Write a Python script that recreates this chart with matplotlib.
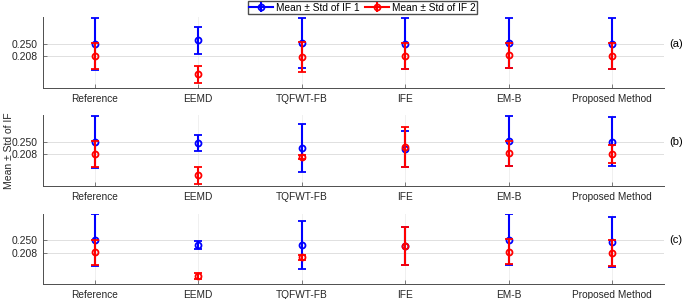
import numpy as np
import matplotlib
matplotlib.use('Agg')
import matplotlib.pyplot as plt
import matplotlib.transforms as mtransforms
from matplotlib.lines import Line2D

plt.rcParams['font.family'] = ['Liberation Sans', 'DejaVu Sans']

methods = ['Reference', 'EEMD', 'TQFWT-FB', 'IFE', 'EM-B', 'Proposed Method']

# panel (a)
mean1_a = [0.250, 0.261, 0.252, 0.250, 0.252, 0.250]
std1_a = [0.088, 0.045, 0.086, 0.087, 0.086, 0.087]
mean2_a = [0.208, 0.147, 0.205, 0.208, 0.210, 0.208]
std2_a = [0.043, 0.029, 0.052, 0.043, 0.043, 0.043]

# panel (b)
mean1_b = [0.250, 0.247, 0.229, 0.227, 0.253, 0.251]
std1_b = [0.087, 0.026, 0.080, 0.061, 0.086, 0.082]
mean2_b = [0.210, 0.137, 0.199, 0.234, 0.211, 0.210]
std2_b = [0.044, 0.028, 0.006, 0.068, 0.043, 0.030]

# panel (c)
mean1_c = [0.250, 0.234, 0.233, 0.230, 0.252, 0.245]
std1_c = [0.088, 0.013, 0.082, 0.064, 0.086, 0.085]
mean2_c = [0.209, 0.127, 0.192, 0.230, 0.211, 0.207]
std2_c = [0.043, 0.010, 0.008, 0.064, 0.043, 0.045]

panels = [
    ('(a)', mean1_a, std1_a, mean2_a, std2_a),
    ('(b)', mean1_b, std1_b, mean2_b, std2_b),
    ('(c)', mean1_c, std1_c, mean2_c, std2_c),
]
yticks = [0.208, 0.250]
labels = ['Mean ± Std of IF 1', 'Mean ± Std of IF 2']

W, H = 685, 299
fig = plt.figure(figsize=(W / 100, H / 100), dpi=100)

# axes boxes in pixels: (left, top, right, bottom)
boxes = [(43, 17, 664, 88), (43, 115.3, 664, 186.3), (43, 213.7, 664, 284.3)]
gray = '0.15'
x = np.arange(1, len(methods) + 1)
axes = []
for (lab, m1, s1, m2, s2), (l, t, r, b) in zip(panels, boxes):
    ax = fig.add_axes([l / W, 1 - b / H, (r - l) / W, (b - t) / H])
    axes.append(ax)
    ax.errorbar(x, m1, yerr=s1, fmt='o', color='b', ms=4.3, mfc='none',
                mew=1.3, elinewidth=1.5, capsize=3, capthick=1.3, zorder=3)
    ax.errorbar(x, m2, yerr=s2, fmt='o', color='r', ms=4.3, mfc='none',
                mew=1.3, elinewidth=1.5, capsize=3, capthick=1.3, zorder=4)
    ax.set_xlim(0.5, 6.5)
    ax.set_ylim(0.1, 0.34)
    ax.set_xticks(x)
    ax.set_xticklabels(methods, fontsize=7.3, color=gray)
    ax.set_yticks(yticks)
    ax.set_yticklabels(['%.3f' % v for v in yticks], fontsize=7.5, color=gray)
    ax.tick_params(direction='in', length=3, width=0.6, color='0.4', pad=4)
    ax.spines['top'].set_visible(False)
    ax.spines['right'].set_visible(False)
    for s in ('left', 'bottom'):
        ax.spines[s].set_color('0.3')
        ax.spines[s].set_linewidth(0.7)
    ax.grid(axis='y', color='0.88', lw=0.7)
    ax.grid(axis='x', color='0.94', lw=0.7)
    ax.set_axisbelow(True)
    trans = mtransforms.blended_transform_factory(ax.transAxes, ax.transData)
    ax.text(1.009, 0.250, lab, transform=trans, fontsize=8, ha='left',
            va='center', color='black')

axes[1].set_ylabel('Mean ± Std of IF', fontsize=7.5, color=gray)
axes[1].yaxis.set_label_coords(-0.047, 0.5)

# legend handles drawn like MATLAB errorbar entries
handles = []
for c in ['b', 'r']:
    line = Line2D([], [], color=c, lw=1.5)
    mark = Line2D([], [], color=c, marker='o', ms=4.3, mfc='none', mew=1.3, ls='none')
    bar = Line2D([], [], color=c, marker='|', ms=7, mew=1.5, ls='none')
    handles.append((line, bar, mark))
fig.legend(handles, labels, loc='upper center', bbox_to_anchor=(0.529, 1.0), ncol=2,
           fontsize=7.3, fancybox=False, edgecolor='0.3', framealpha=1,
           borderpad=0.15, handlelength=2.3, handletextpad=0.3,
           columnspacing=0.6, borderaxespad=0.1)

fig.savefig('out.png', dpi=100)
